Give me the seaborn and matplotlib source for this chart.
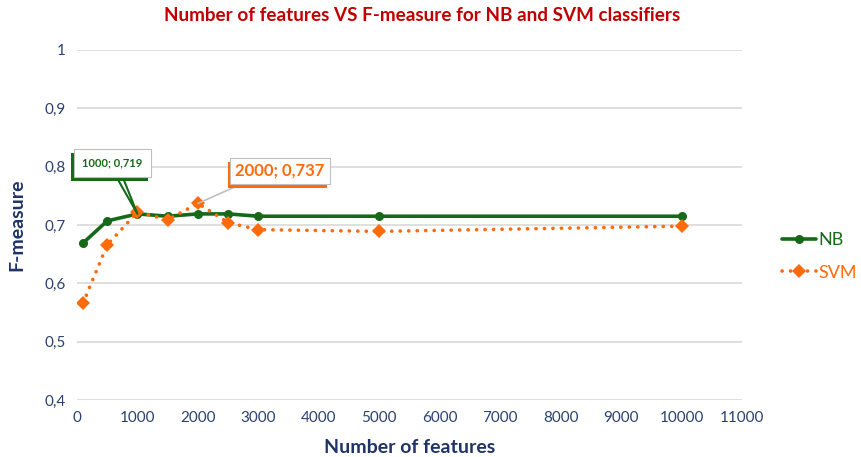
import pandas as pd
import seaborn as sns
import matplotlib.pyplot as plt
import matplotlib.patheffects as pe
from matplotlib.ticker import FuncFormatter, MultipleLocator

# data
n_features = [100, 500, 1000, 1500, 2000, 2500, 3000, 5000, 10000]
nb_fmeasure = [0.669, 0.707, 0.719, 0.715, 0.719, 0.719, 0.715, 0.715, 0.715]
svm_fmeasure = [0.566, 0.666, 0.722, 0.709, 0.737, 0.704, 0.692, 0.689, 0.698]

nb_df = pd.DataFrame({'features': n_features, 'fmeasure': nb_fmeasure})
svm_df = pd.DataFrame({'features': n_features, 'fmeasure': svm_fmeasure})

sns.set_style("white")
plt.rcParams["font.family"] = ["Lato", "DejaVu Sans"]

green = '#17691A'
orange = '#FF6A0A'
navy = '#1F3366'
tick_col = '#2B4170'

fig = plt.figure(figsize=(8.62, 4.57), dpi=100)
ax = fig.add_axes([0.0893, 0.1247, 0.7717, 0.766])

sns.lineplot(data=nb_df, x='features', y='fmeasure', ax=ax, color=green,
             linewidth=2.6, marker='o', markersize=6.5, markeredgewidth=0,
             label='NB')
sns.lineplot(data=svm_df, x='features', y='fmeasure', ax=ax, color=orange,
             linewidth=2.6, linestyle=(0, (0.05, 2.3)), dash_capstyle='round',
             marker='D', markersize=7.5, markeredgewidth=0, label='SVM')

ax.set_xlim(0, 11000)
ax.set_ylim(0.4, 1.0)
ax.xaxis.set_major_locator(MultipleLocator(1000))
ax.yaxis.set_major_locator(MultipleLocator(0.1))
ax.yaxis.set_major_formatter(FuncFormatter(
    lambda v, p: ('%g' % round(v, 2)).replace('.', ',')))
ax.grid(axis='y', color='#D9D9D9', linewidth=1.2)
ax.grid(axis='x', visible=False)
for s in ax.spines.values():
    s.set_visible(False)
ax.tick_params(axis='both', length=0, labelsize=11, labelcolor=tick_col, pad=8)

ax.set_xlabel("Number of features", fontsize=14, fontweight='bold', color=navy, labelpad=10)
ax.set_ylabel("F-measure", fontsize=14, fontweight='bold', color=navy, labelpad=14)
fig.suptitle("Number of features VS F-measure for NB and SVM classifiers",
             x=0.49, y=0.985, fontsize=13.6, fontweight='bold', color='#C00000')

# data labels with callouts
a1 = ax.annotate("1000; 0,719", xy=(n_features[2], nb_fmeasure[2]),
                 xytext=(90, 0.806), fontsize=8, fontweight='bold', color=green,
                 ha='left', va='center',
                 bbox=dict(boxstyle='square,pad=0.75', fc='white', ec='#BFBFBF', lw=0.8),
                 arrowprops=dict(arrowstyle='wedge,tail_width=0.5', fc='white',
                                 ec=green, lw=1.5, shrinkA=0, shrinkB=0,
                                 relpos=(0.55, 0)))
a1.get_bbox_patch().set_path_effects(
    [pe.SimplePatchShadow(offset=(-2, -3), shadow_rgbFace=green, alpha=1), pe.Normal()])

a2 = ax.annotate("2000; 0,737", xy=(n_features[4], svm_fmeasure[4]),
                 xytext=(2620, 0.793), fontsize=12, fontweight='bold', color=orange,
                 ha='left', va='center',
                 bbox=dict(boxstyle='square,pad=0.3', fc='white', ec='#BFBFBF', lw=0.8),
                 arrowprops=dict(arrowstyle='-', color='#BFBFBF', lw=1.2,
                                 shrinkA=0, shrinkB=0, relpos=(0.2, 0)))
a2.get_bbox_patch().set_path_effects(
    [pe.SimplePatchShadow(offset=(-2, -3), shadow_rgbFace=orange, alpha=1), pe.Normal()])

leg = ax.legend(loc='center left', bbox_to_anchor=(1.035, 0.41), frameon=False,
                fontsize=13, handlelength=1.9, labelspacing=0.9, handletextpad=0.15)
for t, c in zip(leg.get_texts(), [green, orange]):
    t.set_color(c)

fig.savefig('out.png', dpi=100)
